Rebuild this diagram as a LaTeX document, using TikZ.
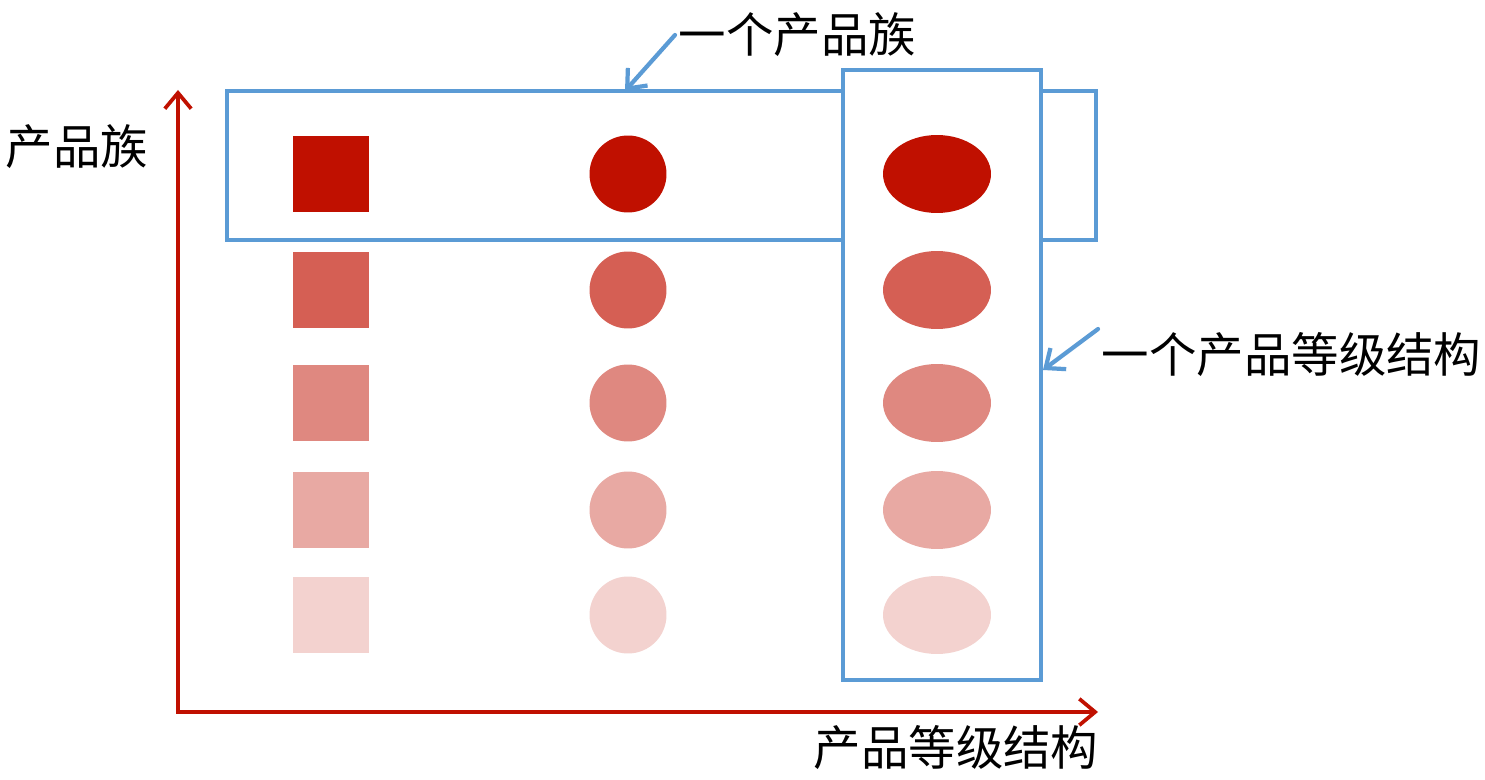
\documentclass[tikz,border=0pt]{standalone}
\usepackage{fontspec}
\usepackage{tikz}
\usetikzlibrary{arrows.meta,shapes.geometric}
\newfontfamily\cjk{Noto Sans CJK SC}
\definecolor{prred}{RGB}{192,16,0}
\definecolor{prblue}{RGB}{91,155,213}
\colorlet{shadeA}{prred}
\colorlet{shadeB}{prred!67!white}
\colorlet{shadeC}{prred!50!white}
\colorlet{shadeD}{prred!36!white}
\colorlet{shadeE}{prred!19!white}

\begin{document}
\begin{tikzpicture}[x=0.02cm,y=-0.02cm,
  txt/.style={font=\cjk\fontsize{27}{32}\selectfont, inner sep=2pt},
  sq/.style={rectangle, inner sep=0pt, minimum width=1.54cm, minimum height=1.52cm},
  dot/.style={circle, inner sep=0pt, minimum size=1.54cm},
  egg/.style={ellipse, inner sep=0pt, minimum width=2.16cm, minimum height=1.56cm},
  band/.style={prblue, line width=2.4pt},
  pointer/.style={prblue, line width=2.4pt, line cap=round, -{Straight Barb[length=9pt,width=15pt]}},
  axis/.style={prred, line width=2.1pt, {Straight Barb[length=9pt,width=15pt]}-{Straight Barb[length=9pt,width=15pt]}}]
\useasboundingbox[fill=white] (0,0) rectangle (1485,780);
% Axes
\coordinate (origin) at (178,712);
\coordinate (ytop) at (178,90);
\coordinate (xend) at (1098,712);
\draw[axis] (ytop) -- (origin) -- (xend);
\node[txt] (ylabel) at (77,147) {产品族};
\node[txt] (xlabel) at (956,748) {产品等级结构};
% Boxes (the column box covers the band)
\draw[band] (227,91) rectangle (1096,240);
\draw[band, fill=white] (843,70) rectangle (1041,680);
% Squares
\node[sq, fill=shadeA] (s1) at (331,174) {};
\node[sq, fill=shadeB] (s2) at (331,290) {};
\node[sq, fill=shadeC] (s3) at (331,403) {};
\node[sq, fill=shadeD] (s4) at (331,510) {};
\node[sq, fill=shadeE] (s5) at (331,615) {};
% Circles
\node[dot, fill=shadeA] (c1) at (628,174) {};
\node[dot, fill=shadeB] (c2) at (628,290) {};
\node[dot, fill=shadeC] (c3) at (628,403) {};
\node[dot, fill=shadeD] (c4) at (628,510) {};
\node[dot, fill=shadeE] (c5) at (628,615) {};
% Ellipses
\node[egg, fill=shadeA] (e1) at (937,174) {};
\node[egg, fill=shadeB] (e2) at (937,290) {};
\node[egg, fill=shadeC] (e3) at (937,403) {};
\node[egg, fill=shadeD] (e4) at (937,510) {};
\node[egg, fill=shadeE] (e5) at (937,615) {};
% Callouts
\node[txt, anchor=west] (family) at (675,35) {一个产品族};
\node[txt, anchor=west] (level) at (1098,355) {一个产品等级结构};
\coordinate (familytip) at (625,91);
\coordinate (leveltip) at (1043,370);
\draw[pointer] (family.west) -- (familytip);
\draw[pointer] (level.north west) -- (leveltip);
\end{tikzpicture}
\end{document}
